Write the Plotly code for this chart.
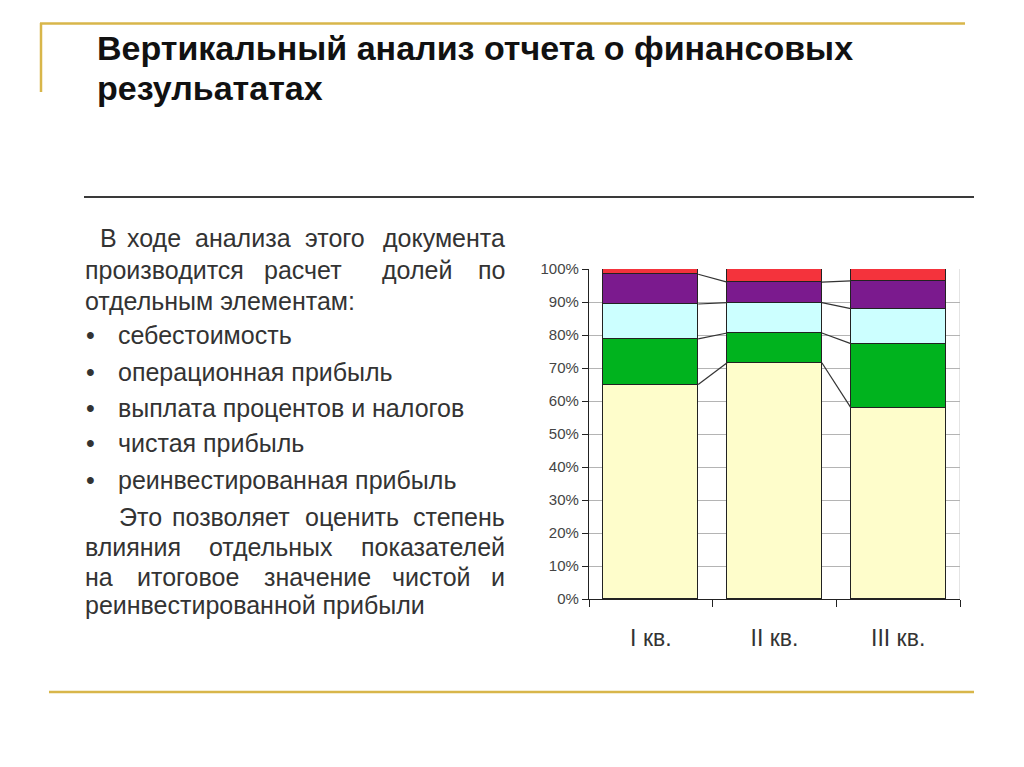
import plotly.graph_objects as go

# ---- data ----
categories = ["I кв.", "II кв.", "III кв."]
series_names = ["себестоимость", "операционная прибыль", "выплата процентов и налогов",
                "чистая прибыль", "реинвестированная прибыль"]
cost = [65.0, 71.6, 58.0]
operating = [13.8, 9.0, 19.4]
interest_tax = [10.6, 9.2, 10.6]
net_profit = [9.0, 6.2, 8.4]
reinvested = [1.6, 4.0, 3.6]
y_ticks = [0, 10, 20, 30, 40, 50, 60, 70, 80, 90, 100]
y_tick_labels = ["0%", "10%", "20%", "30%", "40%", "50%", "60%", "70%", "80%", "90%", "100%"]

colors = ["#FEFDCB", "#00B31E", "#CCFFFF", "#7B1A8E", "#F4333C"]
series = [cost, operating, interest_tax, net_profit, reinvested]

W, H = 1024, 767
def px(x):
    return x / W
def py(y):
    return 1 - y / H

xs = list(range(len(categories)))
bar_w = 0.766

fig = go.Figure()
for name, vals, col in zip(series_names, series, colors):
    fig.add_trace(go.Bar(x=xs, y=vals, name=name, width=bar_w,
                         marker=dict(color=col, line=dict(color="#222222", width=1.2)),
                         showlegend=False, hoverinfo="skip"))

# series lines connecting stack boundaries
cum = [0.0] * len(categories)
lx, ly = [], []
for vals in series[:-1]:
    cum = [c + v for c, v in zip(cum, vals)]
    for i in range(len(categories) - 1):
        lx += [xs[i] + bar_w / 2, xs[i + 1] - bar_w / 2, None]
        ly += [cum[i], cum[i + 1], None]
fig.add_trace(go.Scatter(x=lx, y=ly, mode="lines", line=dict(color="#333333", width=1.2),
                         showlegend=False, hoverinfo="skip"))
# invisible trace for boundary tick axis
fig.add_trace(go.Scatter(x=[-0.5, 2.5], y=[0, 0], xaxis="x2", mode="markers",
                         marker=dict(opacity=0), showlegend=False, hoverinfo="skip"))

x_dom = [px(589), px(960)]
fig.update_layout(
    template="none",
    width=W, height=H, margin=dict(l=0, r=0, t=0, b=0, pad=0, autoexpand=False),
    paper_bgcolor="white", plot_bgcolor="white",
    barmode="stack", bargap=0,
    font=dict(family="Liberation Sans, Arial, sans-serif"),
    xaxis=dict(domain=x_dom, range=[-0.5, 2.5], tickvals=xs, ticktext=categories,
               ticks="outside", ticklen=18, tickcolor="rgba(0,0,0,0)",
               tickfont=dict(size=23, color="#333333"), automargin=False,
               showline=True, linecolor="#222222", linewidth=1.2,
               showgrid=False, zeroline=False, fixedrange=True),
    xaxis2=dict(overlaying="x", anchor="y", domain=x_dom, range=[-0.5, 2.5],
                tickvals=[-0.5, 0.5, 1.5, 2.5], ticktext=["", "", "", ""],
                ticks="outside", ticklen=7, tickcolor="#222222", tickwidth=1.2,
                automargin=False,
                showline=False, showgrid=False, zeroline=False, side="bottom"),
    yaxis=dict(domain=[py(599), py(269)], range=[0, 100], tickvals=y_ticks,
               ticktext=y_tick_labels, ticks="outside", ticklen=6, tickcolor="#222222",
               tickwidth=1.2, tickfont=dict(size=15, color="#444444"), automargin=False,
               showline=True, linecolor="#222222", linewidth=1.2,
               showgrid=True, gridcolor="#b4b4b4", gridwidth=1, zeroline=False),
)

# right border line of plot area
fig.add_shape(type="line", xref="x", yref="y", x0=2.5, x1=2.5, y0=0, y1=100,
              line=dict(color="#c8c8c8", width=1), layer="below")

# slide decorations
gold = "#D8B64A"
fig.add_shape(type="line", xref="paper", yref="paper", x0=px(40), x1=px(965),
              y0=py(23.5), y1=py(23.5), line=dict(color=gold, width=2.5))
fig.add_shape(type="line", xref="paper", yref="paper", x0=px(41), x1=px(41),
              y0=py(23), y1=py(92), line=dict(color=gold, width=2.5))
fig.add_shape(type="line", xref="paper", yref="paper", x0=px(84), x1=px(974),
              y0=py(197), y1=py(197), line=dict(color="#3a3a3a", width=2))
fig.add_shape(type="line", xref="paper", yref="paper", x0=px(49), x1=px(974),
              y0=py(692), y1=py(692), line=dict(color=gold, width=2.5))

# title
for y, t in [(48, "Вертикальный анализ отчета о финансовых"), (88, "резульататах")]:
    fig.add_annotation(xref="paper", yref="paper", x=px(95), y=py(y), xanchor="left",
                       yanchor="middle", text="<b>" + t + "</b>", showarrow=False,
                       font=dict(size=34, color="#111111"))

# body text (justified lines placed word by word)
body = [
    (238, [(98, "left", "В"), (125, "left", "ходе"), (193, "left", "анализа"),
           (303, "left", "этого"), (507, "right", "документа")]),
    (270, [(83, "left", "производится"), (262, "left", "расчет"), (380, "left", "долей"),
           (507, "right", "по")]),
    (301, [(83, "left", "отдельным элементам:")]),
    (335, [(84, "left", "•"), (116, "left", "себестоимость")]),
    (372, [(84, "left", "•"), (116, "left", "операционная прибыль")]),
    (408, [(84, "left", "•"), (116, "left", "выплата процентов и налогов")]),
    (443, [(84, "left", "•"), (116, "left", "чистая прибыль")]),
    (480, [(84, "left", "•"), (116, "left", "реинвестированная прибыль")]),
    (517, [(117, "left", "Это"), (170, "left", "позволяет"), (303, "left", "оценить"),
           (507, "right", "степень")]),
    (547, [(83, "left", "влияния"), (207, "left", "отдельных"), (507, "right", "показателей")]),
    (577, [(83, "left", "на"), (135, "left", "итоговое"), (262, "left", "значение"),
           (390, "left", "чистой"), (507, "right", "и")]),
    (605, [(83, "left", "реинвестированной прибыли")]),
]
for y, words in body:
    for x, anc, w in words:
        fig.add_annotation(xref="paper", yref="paper", x=px(x), y=py(y), xanchor=anc,
                           yanchor="middle", text=w, showarrow=False,
                           font=dict(size=25, color="#333333"))

fig.write_html("out.html")
